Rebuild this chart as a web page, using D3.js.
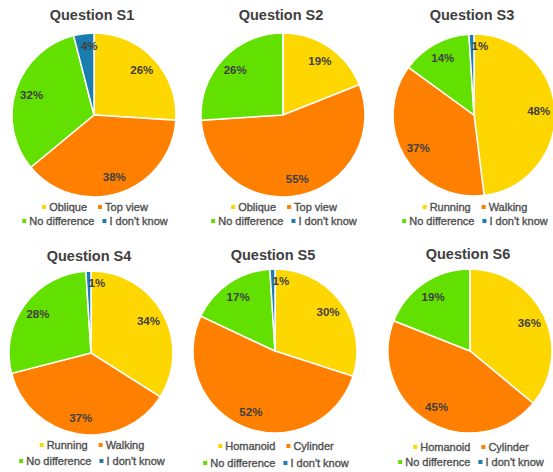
<!DOCTYPE html>
<html>
<head>
<meta charset="utf-8">
<script src="https://cdn.jsdelivr.net/npm/d3@7"></script>
<style>
  body { margin: 0; background: #fff; }
  svg { display: block; font-family: "Liberation Sans", Arial, sans-serif; }
</style>
</head>
<body>
<div id="my_dataviz"></div>
<script>
// chart values
var questions = ["Question S1", "Question S2", "Question S3", "Question S4", "Question S5", "Question S6"];
var optionA = ["Oblique", "Oblique", "Running", "Running", "Homanoid", "Homanoid"];
var optionB = ["Top view", "Top view", "Walking", "Walking", "Cylinder", "Cylinder"];
var optionC = "No difference";
var optionD = "I don't know";
var pctA = [26, 19, 48, 34, 30, 36];
var pctB = [38, 55, 37, 37, 52, 45];
var pctC = [32, 26, 14, 28, 17, 19];
var pctD = [4, 0, 1, 1, 1, 0];

var width = 553, height = 472;
var colors = ["#FFD700", "#FF7F00", "#62E000", "#1B7DAD"];

// layout of the six panels
var panels = [
  {cx: 94,  cy: 115, r: 82, titleY: 20,  leg1: 211, leg2: 225},
  {cx: 283, cy: 115, r: 82, titleY: 20,  leg1: 211, leg2: 225},
  {cx: 474, cy: 115, r: 81, titleY: 20,  leg1: 211, leg2: 225},
  {cx: 91,  cy: 353, r: 82, titleY: 261, leg1: 449, leg2: 465},
  {cx: 275, cy: 351, r: 82, titleY: 260, leg1: 450, leg2: 467},
  {cx: 470, cy: 351, r: 82, titleY: 259, leg1: 451, leg2: 466}
];

var svg = d3.select("#my_dataviz")
  .append("svg")
  .attr("width", width)
  .attr("height", height);

var pie = d3.pie().sort(null).value(function(d) { return d.v; });

questions.forEach(function(q, i) {
  var p = panels[i];
  var slices = [
    {k: optionA[i], v: pctA[i], c: colors[0]},
    {k: optionB[i], v: pctB[i], c: colors[1]},
    {k: optionC,    v: pctC[i], c: colors[2]},
    {k: optionD,    v: pctD[i], c: colors[3]}
  ];

  var g = svg.append("g");

  // title
  g.append("text")
    .attr("x", p.cx - 2)
    .attr("y", p.titleY)
    .attr("text-anchor", "middle")
    .style("font-size", "14.5px")
    .style("font-weight", "bold")
    .style("fill", "#404040")
    .text(q);

  var pg = g.append("g").attr("transform", "translate(" + p.cx + "," + p.cy + ")");
  var arc = d3.arc().innerRadius(0).outerRadius(p.r);
  var arcs = pie(slices);

  pg.selectAll("path")
    .data(arcs)
    .join("path")
    .attr("d", arc)
    .style("fill", function(d) { return d.data.c; })
    .style("stroke", "#fff")
    .style("stroke-width", 1.5);

  var labelArc = d3.arc().innerRadius(p.r * 0.8).outerRadius(p.r * 0.8);
  var smallArc = d3.arc().innerRadius(p.r * 0.85).outerRadius(p.r * 0.85);

  pg.selectAll("text")
    .data(arcs.filter(function(d) { return d.data.v > 0; }))
    .join("text")
    .attr("transform", function(d) {
      if (d.data.v <= 4) {
        var c = smallArc.centroid(d);
        var dx = d.data.v < 2 ? 8 : 4;
        return "translate(" + (c[0] + dx) + "," + c[1] + ")";
      }
      return "translate(" + labelArc.centroid(d) + ")";
    })
    .attr("text-anchor", "middle")
    .attr("dominant-baseline", "central")
    .style("font-size", "11.5px")
    .style("font-weight", "bold")
    .style("fill", "#404040")
    .text(function(d) { return d.data.v + "%"; });

  // legend: two rows, each centered under the pie
  var rows = [[slices[0], slices[1]], [slices[2], slices[3]]];
  var rowY = [p.leg1, p.leg2];
  var gaps = [11, 8];
  rows.forEach(function(row, ri) {
    var lg = g.append("g");
    var xpos = 0;
    row.forEach(function(s, si) {
      lg.append("rect")
        .attr("x", xpos)
        .attr("y", rowY[ri] - 6)
        .attr("width", 4)
        .attr("height", 4)
        .style("fill", s.c);
      var t = lg.append("text")
        .attr("x", xpos + 7)
        .attr("y", rowY[ri])
        .style("font-size", "11px")
        .style("fill", "#505050")
        .style("stroke", "#505050")
        .style("stroke-width", 0.35)
        .text(s.k);
      xpos += 7 + t.node().getComputedTextLength() + gaps[ri];
    });
    var total = xpos - gaps[ri];
    lg.attr("transform", "translate(" + (p.cx + 1 - total / 2) + ",0)");
  });
});
</script>
</body>
</html>
